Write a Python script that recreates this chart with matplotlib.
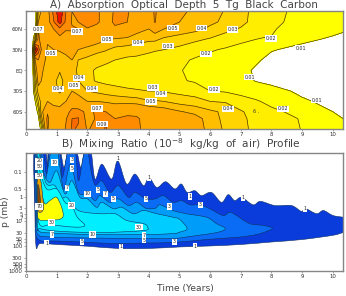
import numpy as np
import matplotlib
matplotlib.use("Agg")
import matplotlib.pyplot as plt
from matplotlib.patches import PathPatch
from matplotlib.path import Path

plt.rcParams["font.family"] = ["DejaVu Sans"]

# Panel A: absorption optical depth (x 1000), one row per time, one column per latitude
aod_years = [0.2, 0.3, 0.4, 0.5, 0.7, 0.9, 1.1, 1.3, 1.5, 1.7, 2.0, 2.3, 2.6, 2.9, 3.3, 3.6, 4.0, 4.2, 4.5,
             5.0, 5.5, 6.0, 6.5, 7.0, 7.5, 8.0, 9.0, 10.0, 10.33]
aod_lats = [85, 70, 60, 45, 30, 15, 0, -15, -30, -45, -60, -70, -85]
aod_milli = [
    [0, 0, 0, 0, 0, 0, 0, 0, 0, 0, 0, 0, 0],
    [0, 0, 5, 30, 150, 50, 40, 30, 25, 10, 0, 0, 0],
    [40, 50, 70, 75, 100, 70, 60, 55, 45, 30, 15, 5, 0],
    [52, 55, 58, 62, 70, 57, 52, 50, 48, 45, 45, 35, 15],
    [62, 60, 58, 52, 48, 46, 45, 43, 46, 50, 68, 74, 72],
    [95, 88, 70, 55, 50, 44, 43, 43, 44, 48, 53, 52, 52],
    [125, 118, 85, 62, 51, 45, 41, 36, 38, 48, 52, 54, 55],
    [90, 85, 72, 60, 52, 48, 45, 44, 44, 50, 62, 68, 72],
    [70, 68, 72, 62, 52, 50, 47, 47, 50, 56, 76, 90, 92],
    [72, 70, 70, 58, 50, 40, 37, 40, 47, 55, 76, 92, 88],
    [82, 82, 68, 58, 47, 37, 32, 33, 40, 50, 66, 62, 68],
    [75, 74, 62, 55, 44, 33, 29, 29, 38, 50, 72, 72, 76],
    [58, 60, 62, 51, 41, 32, 27, 27, 36, 48, 70, 88, 92],
    [73, 74, 66, 49, 37, 30, 26, 26, 34, 47, 60, 70, 72],
    [72, 70, 60, 48, 35, 28, 25, 25, 32, 46, 66, 73, 75],
    [60, 58, 55, 44, 35, 27, 24, 25, 31, 45, 66, 72, 72],
    [60, 60, 50, 42, 32, 26, 23, 24, 30, 41, 60, 64, 66],
    [72, 71, 56, 42, 31, 25, 23, 23, 30, 41, 58, 62, 64],
    [58, 56, 50, 38, 30, 24, 22, 23, 29, 40, 56, 60, 62],
    [54, 50, 45, 36, 27, 22, 20.5, 21, 27, 36, 51, 56, 60],
    [46, 44, 43, 32, 24, 19, 18, 19, 25, 34, 47, 55, 55],
    [45, 42, 38, 29, 21, 17, 16, 17, 20, 30, 42, 45, 47],
    [39, 38, 33, 25, 19, 15, 14, 16, 19, 29, 38, 37, 38],
    [33, 33, 29, 22, 17, 13, 12, 13, 17, 24, 31, 32, 32],
    [27, 26, 25, 20, 14, 11, 9, 9.5, 15, 21, 26, 27, 28],
    [22, 22, 21, 19.5, 10.5, 8, 7, 8, 12.5, 17.5, 22, 23, 23],
    [18, 17, 15, 11.5, 8, 6, 5, 5, 8.5, 11, 17, 19.5, 19.8],
    [14, 13, 12, 9, 7, 5, 4, 4, 6, 8, 10, 12, 13],
    [13, 12, 11, 8, 6, 4, 4, 4, 5, 7, 9, 10, 11],
]
aod_levels = [0.01, 0.02, 0.03, 0.04, 0.05, 0.07, 0.09, 0.11, 0.14, 0.2]
aod_colors = ["#FFFF00", "#FFEE00", "#FFD400", "#FFBE00", "#FFA800", "#FF8C00", "#FF6A00", "#F01000", "#700000"]
aod_labels = [
    (0.40, 59, "0.07"), (1.65, 56, "0.07"), (2.63, 44.5, "0.05"), (3.64, 40, "0.04"), (4.64, 35, "0.03"),
    (0.80, 25, "0.05"), (1.73, -11, "0.04"), (1.57, -22, "0.05"), (1.05, -27, "0.04"), (2.14, -27, "0.04"),
    (4.13, -25, "0.03"), (4.39, -34, "0.04"), (4.07, -45, "0.05"), (2.30, -55, "0.07"), (2.47, -78, "0.09"),
    (4.79, 61, "0.05"), (5.72, 61, "0.04"), (6.73, 59, "0.03"), (7.97, 46, "0.02"), (5.88, 24, "0.02"),
    (8.96, 32, "0.01"), (7.29, -10, "0.01"), (6.13, -28, "0.02"), (9.47, -43, "0.01"), (6.57, -56, "0.04"),
    (8.38, -56, "0.02"),
]

# Panel B: nested mixing-ratio regions, as (years, log10 pressure) outlines from the outside in
ratio_1_years = [0.27, 0.62, 0.70, 0.75, 1.09, 1.24, 1.38, 1.63, 1.79, 1.92, 2.11, 2.25, 2.47, 2.79, 2.99, 3.28,
                 3.55, 3.83, 4.01, 4.26, 4.55, 4.85, 5.06, 5.25, 5.50, 5.72, 6.04, 6.37, 6.59, 6.80, 7.02, 7.40,
                 7.64, 8.11, 8.65, 8.98, 9.09, 9.47, 9.69, 10.0, 10.33, 10.6,
                 10.6, 10.33, 10.0, 9.0, 8.0, 7.0, 6.0, 5.0, 4.0, 3.0, 2.0, 1.0, 0.46, 0.33, 0.29]
ratio_1_logp = [-1.9, -1.9, -1.24, -1.9, -1.9, -1.17, -1.9, -1.9, -1.17, -1.9, -1.9, -0.71, -1.31, -0.71, -1.44,
                -0.51, -0.91, -0.44, -0.77, -0.37, -0.6, -0.31, -0.51, -0.17, -0.24, -0.04, -0.17, 0.23, -0.08,
                0.16, 0.03, 0.33, 0.19, 0.36, 0.36, 0.6, 0.47, 0.69, 0.56, 0.76, 0.83, 0.87,
                1.37, 1.45, 1.56, 1.73, 1.83, 1.93, 1.99, 2.03, 2.09, 2.09, 2.0, 1.93, 1.89, 2.03, 0.5]
ratio_2_years = [0.30, 0.54, 0.67, 0.78, 1.09, 1.18, 1.38, 1.60, 1.71, 1.87, 2.0, 2.11, 2.25, 2.47, 2.74, 3.01,
                 3.34, 3.55, 3.91, 4.21, 4.48, 4.79, 5.07, 5.34, 5.68, 5.99, 6.42, 6.64, 6.86, 7.29, 7.73, 8.03,
                 7.84, 7.51, 6.97, 5.88, 4.79, 3.83, 2.85, 1.82, 1.0, 0.37, 0.30]
ratio_2_logp = [-1.9, -1.9, -0.91, -1.9, -1.9, -0.77, -1.9, -1.9, -0.64, -1.64, -1.9, -1.11, -0.47, -0.64, -0.17,
                -0.44, 0.03, -0.17, 0.09, 0.09, -0.04, 0.23, 0.16, 0.33, 0.33, 0.49, 0.76, 0.63, 0.76, 1.09, 1.16,
                1.27, 1.4, 1.53, 1.63, 1.73, 1.85, 1.87, 1.89, 1.83, 1.79, 1.69, 0.63]
ratio_3_years = [0.33, 0.48, 0.62, 0.78, 0.84, 1.02, 1.22, 1.38, 1.49, 1.71, 2.0, 2.25, 2.41, 2.74, 3.01, 3.34,
                 3.61, 3.91, 4.21, 4.37, 4.79, 5.23, 5.88, 6.21, 6.50, 6.21, 5.45, 4.79, 3.83, 2.17, 0.84, 0.37, 0.33]
ratio_3_logp = [-1.9, -1.9, -0.71, -1.64, -1.9, -1.9, -0.31, -1.11, -1.24, -0.17, -0.11, 0.16, -0.04, 0.23, 0.09,
                0.36, 0.23, 0.47, 0.47, 0.33, 0.56, 0.69, 0.83, 1.09, 1.29, 1.45, 1.59, 1.69, 1.69, 1.67, 1.63,
                1.49, 0.63]
ratio_4_years = [0.35, 0.43, 0.57, 0.78, 1.0, 1.27, 1.49, 1.76, 2.0, 2.30, 2.47, 2.85, 3.12, 3.50, 3.83, 4.26,
                 4.79, 5.01, 5.25, 5.01, 4.79, 3.83, 2.17, 0.89, 0.40, 0.35]
ratio_4_logp = [-1.9, -1.9, -0.97, -0.57, -1.04, -0.11, -0.64, 0.03, 0.09, 0.43, 0.23, 0.49, 0.43, 0.69, 0.56, 0.69,
                0.83, 0.92, 1.29, 1.43, 1.49, 1.53, 1.53, 1.47, 1.36, 0.63]
ratio_5_years = [0.37, 0.41, 0.51, 0.67, 0.95, 1.11, 1.33, 1.71, 2.41, 2.90, 3.28, 3.83, 3.96, 3.83, 2.41, 1.11,
                 0.46, 0.37]
ratio_5_logp = [-1.9, -1.9, -1.24, -0.51, -0.44, 0.09, 0.03, 0.56, 0.69, 0.69, 0.96, 1.09, 1.23, 1.37, 1.45, 1.4,
                1.29, 1.09]
ratio_6_years = [0.39, 0.43, 0.67, 1.0, 1.27, 1.49, 1.67, 1.92, 1.60, 0.84, 0.40]
ratio_6_logp = [-1.51, -1.11, -0.31, -0.31, 0.23, 0.36, 0.83, 1.16, 1.23, 1.13, 0.96]
ratio_7_years = [0.40, 0.51, 0.62, 0.78, 1.02, 1.20, 0.62, 0.43, 0.38]
ratio_7_logp = [-0.71, -0.11, 0.29, 0.16, 0.05, 0.83, 0.96, 0.92, 0.69]
ratio_8_years = [0.37, 0.48, 0.54, 0.57, 0.43, 0.37]
ratio_8_logp = [-0.71, -0.64, -0.04, 0.49, 0.63, 0.23]
ratio_9_years = [0.38, 0.43, 0.48, 0.40]
ratio_9_logp = [-0.44, -0.31, 0.36, 0.43]

ratio_regions = [
    (ratio_1_years, ratio_1_logp, "#0A3CDC"),
    (ratio_2_years, ratio_2_logp, "#0A6CF5"),
    (ratio_3_years, ratio_3_logp, "#009CFA"),
    (ratio_4_years, ratio_4_logp, "#00CCFF"),
    (ratio_5_years, ratio_5_logp, "#00EEFF"),
    (ratio_6_years, ratio_6_logp, "#00FFFF"),
    (ratio_7_years, ratio_7_logp, "#FFFF00"),
    (ratio_8_years, ratio_8_logp, "#E8A000"),
    (ratio_9_years, ratio_9_logp, "#8A4A00"),
]
ratio_labels = [
    (0.43, -1.44, "20"), (0.43, -1.21, "50"), (0.43, -0.84, "50"), (0.43, 0.39, "70"), (0.92, -1.37, "10"),
    (1.49, -1.48, "3"), (1.49, -1.13, "5"), (1.33, -0.35, "7"), (1.49, 0.36, "20"), (2.0, -0.11, "10"),
    (2.34, -0.27, "5"), (2.59, -0.11, "7"), (2.85, 0.09, "5"), (0.84, 1.05, "30"), (0.84, 1.53, "7"),
    (2.17, 1.52, "10"), (1.82, 1.83, "5"), (0.67, 1.88, "1"), (3.09, 2.03, "1"), (2.99, -1.55, "1"),
    (4.01, -0.77, "1"), (3.91, 0.09, "5"), (4.67, 0.40, "3"), (3.68, 1.23, "30"), (3.85, 1.56, "7"),
    (3.85, 1.76, "5"), (5.34, -0.01, "1"), (5.68, 0.33, "3"), (4.84, 1.83, "3"), (5.5, 2.0, "1"),
    (7.08, 0.05, "1"), (9.09, 0.49, "1"),
]

year_ticks = list(range(11))
lat_ticks = [60, 30, 0, -30, -60]
lat_tick_labels = ["60N", "30N", "EQ", "30S", "60S"]
pressure_ticks = [0.1, 0.5, 1, 3, 5, 7, 10, 30, 50, 70, 100, 300, 500, 700, 1000]
pressure_tick_labels = ["0.1", "0.5", "1", "3", "5", "7", "10", "30", "50", "70", "100", "300", "500", "700", "1000"]

W, H = 346, 296
fig = plt.figure(figsize=(W / 100, H / 100), dpi=100, facecolor="white")


def panel(left, top, right, bottom):
    return fig.add_axes([left / W, 1 - bottom / H, (right - left) / W, (bottom - top) / H])


def style(ax):
    ax.set_xlim(0, 10.33)
    ax.set_xticks(year_ticks)
    ax.tick_params(axis="both", which="both", length=1.5, width=0.4, color="#666666",
                   labelsize=3.9, pad=1, labelcolor="#333333")
    ax.minorticks_off()
    for s in ax.spines.values():
        s.set_color("#858585")
        s.set_linewidth(1.0)


def tag(ax, x, y, s):
    ax.text(x, y, s, fontsize=3.4, ha="center", va="center", color="#222222", zorder=10,
            bbox=dict(facecolor="white", edgecolor="none", pad=0.5))


def rounded_outline(years, logp):
    """Closed Catmull-Rom outline through the given points, returned as a Bezier path on pressure."""
    pts = np.column_stack([np.asarray(years, float), np.asarray(logp, float)])
    n = len(pts)
    verts = [pts[0]]
    codes = [Path.MOVETO]
    for i in range(n):
        p0, p1, p2, p3 = pts[i - 1], pts[i], pts[(i + 1) % n], pts[(i + 2) % n]
        verts += [p1 + (p2 - p0) / 6, p2 - (p3 - p1) / 6, p2]
        codes += [Path.CURVE4] * 3
    verts = np.array(verts)
    verts[:, 1] = 10 ** verts[:, 1]
    return Path(verts, codes)


# Optical depth contours
ax_a = panel(26, 11, 343, 129)
field = np.array(aod_milli).T / 1000.0
ax_a.contourf(aod_years, aod_lats, field, levels=aod_levels, colors=aod_colors)
ax_a.contour(aod_years, aod_lats, field, levels=aod_levels[:-1], colors="#4A3A00", linewidths=0.5)
ax_a.set_ylim(-85, 86)
style(ax_a)
ax_a.set_yticks(lat_ticks)
ax_a.set_yticklabels(lat_tick_labels)
for x, y, s in aod_labels:
    tag(ax_a, x, y, s)
ax_a.text(7.5, -60, "6 .", fontsize=3.4, ha="center", va="center", color="#333333")

# Mixing ratio regions on a log pressure axis
ax_b = panel(26, 153, 343, 271)
ax_b.set_yscale("log")
for years, logp, colour in ratio_regions:
    ax_b.add_patch(PathPatch(rounded_outline(years, logp), facecolor=colour, edgecolor="#103060", linewidth=0.4))
ax_b.set_ylim(1000, 10 ** -1.76)
style(ax_b)
ax_b.set_yticks(pressure_ticks)
ax_b.set_yticklabels(pressure_tick_labels)
for x, y, s in ratio_labels:
    tag(ax_b, x, 10 ** y, s)

title_color = "#444444"
fig.text(184 / W, 1 - 4.5 / H, "A)  Absorption  Optical  Depth  5  Tg  Black  Carbon",
         fontsize=7.5, color=title_color, ha="center", va="center")
fig.text(181 / W, 1 - 144 / H, "B)  Mixing  Ratio  (10$^{-8}$  kg/kg  of  air)  Profile",
         fontsize=7.6, color=title_color, ha="center", va="center")
fig.text(185 / W, 1 - 288 / H, "Time (Years)", fontsize=6.6, color=title_color, ha="center", va="center")
fig.text(5 / W, 1 - 212 / H, "p (mb)", fontsize=6.6, color=title_color, ha="center", va="center", rotation=90)

fig.savefig("out.png", dpi=100)
